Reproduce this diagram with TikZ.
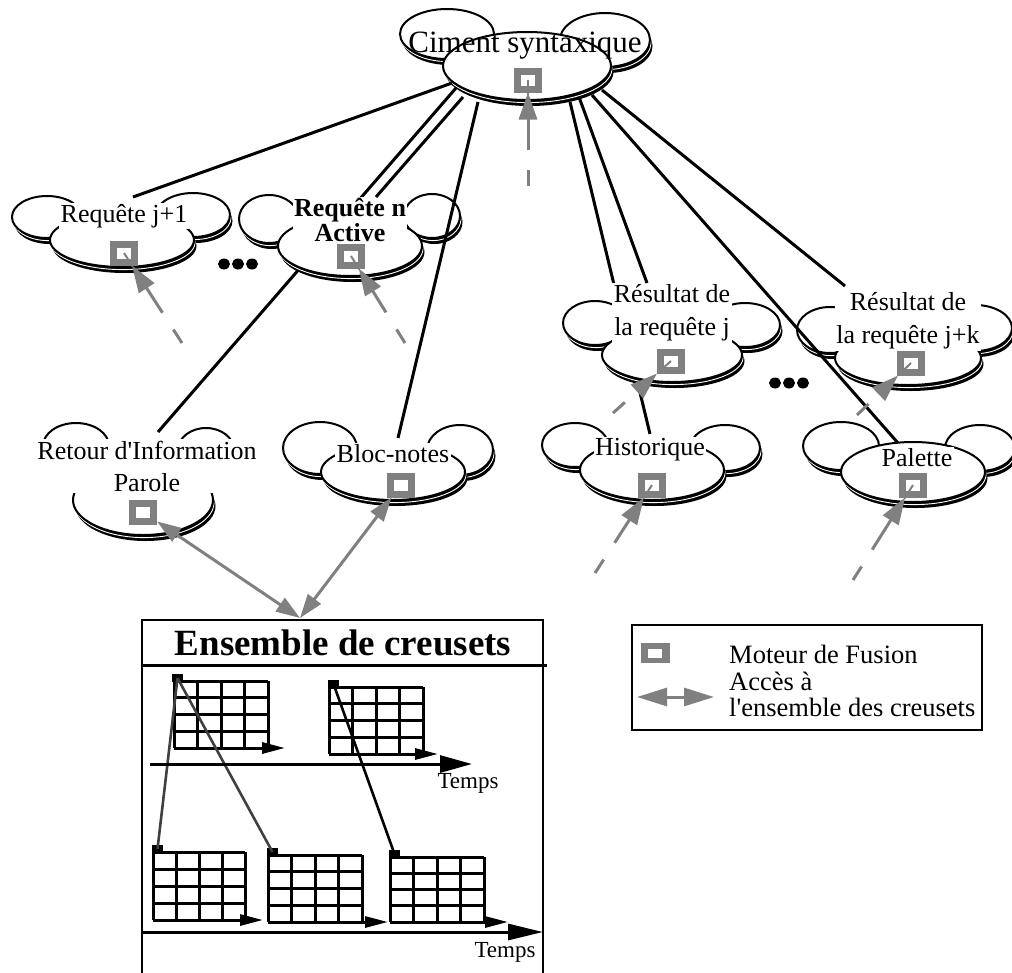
\documentclass[tikz,border=0pt]{standalone}
\usepackage{fontspec}
\setmainfont{Liberation Serif}[Ligatures=TeXOff]
\usetikzlibrary{arrows.meta,calc}
\definecolor{fgray}{RGB}{128,128,128}
\definecolor{dgray}{RGB}{64,64,64}
% one lobe of a cloud: cx cy rx ry
\newcommand{\puff}[4]{%
  \fill[black] (#1+2.5,#2+6) ellipse [x radius=#3, y radius=#4];
  \draw[white, line width=0.9pt] (#1+1,#2+2.6) ellipse [x radius=#3, y radius=#4];
  \draw[black, line width=2pt, fill=white] (#1,#2) ellipse [x radius=#3, y radius=#4];
}
% crucible grid: x0 y0 x1 y1 arrow-tip-x
\newcommand{\tgrid}[5]{%
  \foreach \i in {0,...,4} {\draw[gridl] ({#1+\i*(#3-#1)/4},#2) -- ({#1+\i*(#3-#1)/4},#4);}
  \foreach \j in {0,...,3} {\draw[gridl] (#1,{#2+\j*(#4-#2)/4}) -- (#3,{#2+\j*(#4-#2)/4});}
  \draw[gridl, -{Triangle[length=23pt,width=11pt]}] (#1,#4) -- (#5,#4);
}
\begin{document}
\begin{tikzpicture}[x=1pt,y=-1pt,
  ctext/.style={fill=white, inner sep=1.5pt, align=center, font=\fontsize{26pt}{33pt}\selectfont},
  link/.style={draw=black, line width=3pt},
  feed/.style={draw=fgray, line width=3pt, dash pattern=on 16pt off 20pt on 600pt off 1pt, -{Triangle[length=27pt,width=18pt]}},
  feedin/.style={draw=fgray, line width=2pt},
  access/.style={draw=fgray, line width=3pt, {Triangle[length=24pt,width=16pt]}-{Triangle[length=24pt,width=16pt]}},
  fsq/.style={rectangle, fill=white, draw=fgray, line width=7pt, minimum width=21pt, minimum height=18pt, inner sep=0pt},
  gridl/.style={draw=black, line width=3pt},
  gmark/.style={rectangle, fill=black, inner sep=0pt, outer sep=0pt, minimum width=11pt, minimum height=8pt, anchor=south west},
  axisl/.style={draw=black, line width=3pt},
]
\useasboundingbox (0,0) rectangle (1012,972);

% connector end points
\coordinate (s1) at (452,83);  \coordinate (e1) at (133,197);
\coordinate (s2) at (456,88);  \coordinate (e2) at (158,432);
\coordinate (s3) at (463,97);  \coordinate (e3) at (376,197);
\coordinate (s4) at (478,102); \coordinate (e4) at (398,438);
\coordinate (s5) at (570,102); \coordinate (e5) at (650,434);
\coordinate (s6) at (579,97);  \coordinate (e6) at (647,283);
\coordinate (s7) at (592,95);  \coordinate (e7) at (898,443);
\coordinate (s8) at (602,90);  \coordinate (e8) at (845,286);

% connectors passing behind clouds
\draw[link] (s2) -- (e2);
\draw[link] (s5) -- (e5);

% ---- Ciment syntaxique
\puff{447}{34}{47}{25}
\puff{605}{40}{45}{27}
\puff{527}{66}{84}{34}
\node[font=\fontsize{31pt}{34pt}\selectfont, inner sep=0pt] (ciment) at (525,46) {Ciment syntaxique};
\node[fsq] (sqA) at (528,80) {};

% ---- Requête j+1
\puff{47}{217}{35}{21}
\puff{193}{215}{37}{22}
\puff{122}{240}{72}{27}
\node[ctext] (reqj) at (124,216) {Requête j+1};
\node[fsq] (sqB) at (124,253) {};

% ---- Requête n Active
\puff{269}{219}{30}{24}
\puff{432}{216}{28}{22}
\puff{350}{246}{72}{30}
\node[ctext, font=\bfseries\fontsize{26pt}{22pt}\selectfont] (reqn) at (350,220) {Requête n\\Active};
\node[fsq] (sqC) at (351,256) {};

% ---- Retour d'Information Parole
\puff{76}{446}{33}{23}
\puff{206}{450}{28}{22}
\puff{143}{500}{70}{35}
\node[ctext, font=\fontsize{26pt}{32pt}\selectfont] (retour) at (147,466) {Retour d'Information\\Parole};
\node[fsq] (sqD) at (143,512) {};

% ---- Bloc-notes
\puff{320}{448}{37}{26}
\puff{460}{450}{33}{25}
\puff{393}{472}{72}{28}
\node[ctext] (bloc) at (393,454) {Bloc-notes};
\node[fsq] (sqE) at (401,485) {};

% ---- Résultat de la requête j
\puff{595}{323}{32}{22}
\puff{745}{325}{35}{22}
\puff{672}{355}{70}{27}
\node[ctext] (resj) at (672,313) {Résultat de\\ la requête j};
\node[fsq] (sqF) at (671,361) {};

% ---- Résultat de la requête j+k
\puff{830}{330}{33}{23}
\puff{975}{328}{37}{23}
\puff{908}{358}{73}{27}
\node[ctext] (resjk) at (908,321) {Résultat de\\la requête j+k};
\node[fsq] (sqG) at (911,363) {};

% ---- Historique
\puff{575}{445}{33}{22}
\puff{725}{448}{35}{23}
\puff{652}{470}{72}{30}
\node[ctext] (histo) at (650,450) {Historique};
\node[fsq] (sqH) at (652,485) {};

% ---- Palette
\puff{841}{446}{38}{24}
\puff{980}{448}{35}{23}
\puff{913}{472}{72}{30}
\node[ctext] (pal) at (917,458) {Palette};
\node[fsq] (sqI) at (913,485) {};

% ellipses
\foreach \x in {224,238,252} {\fill (\x,264) ellipse [x radius=6, y radius=5.5];}
\foreach \x in {775,789,803} {\fill (\x,383) ellipse [x radius=6, y radius=5.5];}

% connectors over clouds
\draw[link] (s1) -- (e1);
\draw[link] (s3) -- (e3);
\draw[link] (s4) -- (e4);
\draw[link] (s6) -- (e6);
\draw[link] (s7) -- (e7);
\draw[link] (s8) -- (e8);

% input arrows to the fusion engines
\coordinate (fA) at (528,186);
\coordinate (fB) at (182,343);
\coordinate (fC) at (405,343);
\coordinate (fF) at (613,413);
\coordinate (fG) at (857,415);
\coordinate (fH) at (595,573);
\coordinate (fI) at (853,580);
\foreach \s/\q in {fA/sqA,fB/sqB,fC/sqC,fF/sqF,fG/sqG,fH/sqH,fI/sqI} {
  \draw[feedin] ($(\q.center)!16pt!(\s)$) -- (\q.center);
  \draw[feed] (\s) -- (\q);
}

% ---- Ensemble de creusets
\coordinate (enstop) at (300,618);
\draw[access] (sqD) -- (enstop);
\draw[access] (sqE) -- (enstop);

\coordinate (bxbl) at (142,980);
\coordinate (bxtl) at (142,620);
\coordinate (bxtr) at (543,620);
\coordinate (bxbr) at (543,980);
\draw[line width=2.4pt] (bxbl) -- (bxtl) -- (bxtr) -- (bxbr);
\coordinate (sepl) at (142,665);
\coordinate (sepr) at (547,665);
\draw[line width=3pt] (sepl) -- (sepr);
\node[font=\bfseries\fontsize{37pt}{40pt}\selectfont, inner sep=0pt] (enstitle) at (343,643) {Ensemble de creusets};

\tgrid{174}{681}{268}{748}{285}
\tgrid{329}{687}{423}{754}{438}
\tgrid{153}{852}{245}{920}{263}
\tgrid{268}{855}{362}{922}{388}
\tgrid{390}{857}{484}{922}{508}

\node[gmark] (m1) at (172,682) {};
\node[gmark] (m2) at (328,688) {};
\node[gmark] (m3) at (152,853) {};
\node[gmark] (m4) at (267,856) {};
\node[gmark] (m5) at (389,858) {};
\draw[dgray, line width=2.6pt] (m1.center) -- (m3.center);
\draw[dgray, line width=2.6pt] (m1.center) -- (m4.center);
\draw[black, line width=2.6pt] (m2.center) -- (m5.center);

\coordinate (ax1a) at (150,764);
\coordinate (ax1b) at (472,764);
\draw[axisl, -{Triangle[length=32pt,width=17pt]}] (ax1a) -- (ax1b);
\node[font=\fontsize{23pt}{26pt}\selectfont, inner sep=0pt] (temps1) at (468,783) {Temps};
\coordinate (ax2a) at (142,932);
\coordinate (ax2b) at (543,932);
\draw[axisl, -{Triangle[length=35pt,width=16pt]}] (ax2a) -- (ax2b);
\node[font=\fontsize{23pt}{26pt}\selectfont, inner sep=0pt] (temps2) at (505,952) {Temps};

% ---- legend
\draw[line width=2.2pt] (632,625) rectangle (982,730);
\node[rectangle, fill=fgray, inner sep=0pt, minimum width=29pt, minimum height=20pt] (leg1) at (655,653) {};
\fill[white] ($(leg1.center)+(-7,-4.5)$) rectangle ($(leg1.center)+(7,4.5)$);
\coordinate (la1) at (637,697);
\coordinate (la2) at (714,697);
\draw[draw=fgray, line width=3pt, {Triangle[length=30pt,width=18pt]}-{Triangle[length=30pt,width=18pt]}] (la1) -- (la2);
\node[anchor=west, align=left, inner sep=0pt, font=\fontsize{26.5pt}{26.5pt}\selectfont] (legtext) at (729,681) {Moteur de Fusion\\Accès à\\l'ensemble des creusets};
\end{tikzpicture}
\end{document}
